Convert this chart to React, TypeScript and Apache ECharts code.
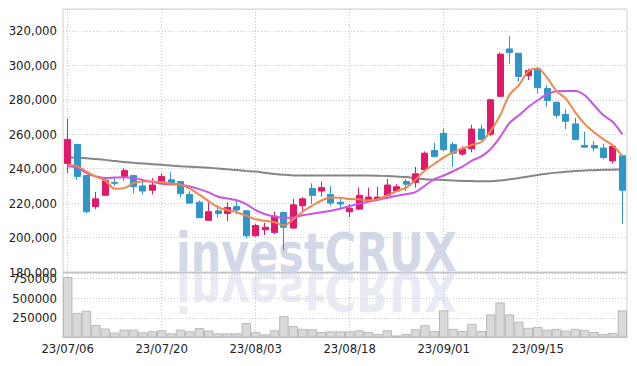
import React, { useEffect, useRef } from 'react';
import * as echarts from 'echarts';

const dates = [
  '23/07/06', '23/07/07', '23/07/10', '23/07/11', '23/07/12', '23/07/13', '23/07/14', '23/07/17', '23/07/18', '23/07/19',
  '23/07/20', '23/07/21', '23/07/24', '23/07/25', '23/07/26', '23/07/27', '23/07/28', '23/07/31', '23/08/01', '23/08/02',
  '23/08/03', '23/08/04', '23/08/07', '23/08/08', '23/08/09', '23/08/10', '23/08/11', '23/08/14', '23/08/16', '23/08/17',
  '23/08/18', '23/08/21', '23/08/22', '23/08/23', '23/08/24', '23/08/25', '23/08/28', '23/08/29', '23/08/30', '23/08/31',
  '23/09/01', '23/09/04', '23/09/05', '23/09/06', '23/09/07', '23/09/08', '23/09/11', '23/09/12', '23/09/13', '23/09/14',
  '23/09/15', '23/09/18', '23/09/19', '23/09/20', '23/09/21', '23/09/22', '23/09/25', '23/09/26', '23/09/27', '23/10/04',
];

const openPrices = [
  243000, 254000, 236000, 218000, 224500, 232000, 235500, 236000, 230000, 227500,
  232500, 233500, 232500, 225000, 220500, 210000, 215500, 214000, 218000, 215500,
  201000, 204500, 203000, 214500, 205500, 218500, 228500, 227000, 225000, 220500,
  215000, 216500, 222000, 222000, 224500, 227000, 232500, 232000, 239500, 250500,
  260500, 254000, 248500, 251500, 263000, 260000, 282000, 309500, 307000, 294000,
  298000, 286500, 278500, 271500, 266000, 253500, 253500, 252000, 244500, 247500,
];
const closePrices = [
  257000, 235500, 215000, 222500, 233000, 231500, 239000, 229500, 227000, 230500,
  235500, 232000, 225500, 220000, 211500, 215000, 214000, 217500, 216000, 201000,
  207000, 206000, 212500, 206000, 219000, 222500, 224500, 229000, 220000, 219500,
  217000, 224500, 223500, 223500, 230500, 229500, 231000, 237000, 249000, 247000,
  251000, 249000, 251500, 263000, 257000, 280000, 306500, 307500, 293500, 297000,
  287000, 279500, 271000, 267500, 257000, 252500, 252000, 246500, 253000, 227500,
];
const lowPrices = [
  237500, 233500, 214000, 216500, 224500, 230000, 233000, 225500, 225000, 225000,
  231000, 231000, 223500, 219500, 211500, 210000, 211500, 209500, 213500, 199500,
  200500, 201500, 202000, 192500, 205000, 215500, 219500, 224000, 218500, 216500,
  212000, 216000, 221500, 222000, 222500, 226500, 227000, 229000, 238000, 247000,
  250000, 241000, 247500, 249500, 256500, 259000, 281500, 301000, 290500, 291500,
  283500, 276000, 269500, 263000, 256500, 252000, 250000, 245500, 243000, 208000,
];
const highPrices = [
  269000, 254500, 236000, 226500, 234000, 235000, 240500, 236500, 233500, 234500,
  237500, 238000, 232500, 227000, 221500, 220500, 219000, 220500, 221500, 216000,
  208000, 208500, 215000, 215000, 222500, 223500, 231500, 232500, 230000, 222500,
  219500, 229000, 229000, 229500, 234000, 231000, 234000, 241000, 250000, 255000,
  263500, 255500, 253000, 265500, 265500, 280500, 307500, 317000, 307000, 298000,
  299000, 288500, 279000, 274500, 269500, 261500, 256000, 254500, 254000, 247500,
];

const ma5 = [
  242100, 241500, 238300, 235400, 233100, 228400, 228700, 231600, 232500, 232500,
  232200, 231300, 230700, 228400, 224900, 221100, 217600, 215900, 214700, 212700,
  210600, 209700, 208900, 207100, 210600, 215000, 218500, 221500, 223200, 223100,
  222400, 222200, 221500, 222300, 224500, 227000, 229000, 233500, 238900, 242700,
  246500, 249400, 251700, 253800, 255500, 261900, 271000, 282900, 288500, 296600,
  298200, 292800, 285000, 280600, 272700, 266000, 261100, 257000, 253500, 247300,
];
const ma10 = [
  241400, 240600, 237400, 235400, 234600, 234800, 235000, 234500, 233500, 232300,
  231300, 230800, 230700, 229600, 228100, 226200, 223700, 222700, 221700, 219400,
  215900, 213500, 212100, 211500, 211700, 212900, 213800, 214700, 215600, 216700,
  218200, 219700, 220800, 222000, 223100, 224300, 225200, 226400, 230100, 233900,
  236000, 238500, 241200, 244700, 247100, 251400, 258300, 266500, 271000, 275800,
  279700, 283200, 285000, 285100, 285100, 282600, 276800, 271000, 267100, 259900,
];
const maLong = [
  246600, 246400, 246000, 245600, 245100, 244400, 243900, 243400, 243000, 242600,
  242200, 241800, 241400, 241100, 240800, 240500, 240100, 239600, 239200, 238700,
  238300, 237600, 236900, 236400, 236100, 236000, 236000, 236000, 236000, 236000,
  236000, 236000, 236000, 235900, 235700, 235400, 235100, 234500, 233900, 233600,
  233400, 233100, 232900, 232800, 232700, 232700, 233100, 233800, 234600, 235500,
  236300, 237100, 237700, 238200, 238600, 238900, 239100, 239300, 239400, 239500,
];

const volumes = [
  770000, 312000, 342000, 158000, 114000, 62000, 101000, 101000, 66000, 79000,
  92000, 53000, 101000, 79000, 120000, 90000, 53000, 53000, 53000, 184000,
  70000, 40000, 92000, 272000, 145000, 110000, 105000, 70000, 79000, 79000,
  79000, 92000, 70000, 44000, 92000, 26000, 44000, 105000, 158000, 83000,
  346000, 110000, 83000, 175000, 83000, 294000, 447000, 294000, 202000, 123000,
  136000, 101000, 110000, 88000, 110000, 97000, 70000, 44000, 57000, 346000,
];

const priceTicks = { min: 180000, max: 332700, interval: 20000 };
const volumeTicks = { min: 0, max: 822000, interval: 250000 };

const UP = '#e2196b';
const DOWN = '#2e97c8';
const GRID_LINE = '#c3c9dc';
const LABEL_FONT = "'DejaVu Sans Condensed', 'DejaVu Sans', sans-serif";
const WM_FONT = "bold 53px 'DejaVu Sans', sans-serif";

export default function App() {
  const ref = useRef<HTMLDivElement>(null);

  useEffect(() => {
    if (!ref.current) return;
    const chart = echarts.init(ref.current, null, { renderer: 'svg' });

    const candleData = dates.map((_, i) => [openPrices[i], closePrices[i], lowPrices[i], highPrices[i]]);

    const dotted = { color: GRID_LINE, width: 1, type: [1, 2] as any };

    const labelStyle = {
      color: '#222',
      fontSize: 13,
      fontFamily: LABEL_FONT,
    };

    chart.setOption({
      animation: false,
      backgroundColor: '#ffffff',
      grid: [
        { left: 63, right: 10, top: 9, height: 263, show: true, borderColor: '#cfcfcf', borderWidth: 1, outerBoundsMode: 'none', containLabel: false },
        { left: 63, right: 10, top: 273, height: 64.5, show: true, borderColor: '#cfcfcf', borderWidth: 1, outerBoundsMode: 'none', containLabel: false },
      ],
      graphic: [
        {
          type: 'text',
          x: 176,
          y: 252.7,
          scaleX: 0.81,
          z: 1,
          silent: true,
          style: {
            text: 'investCRUX',
            font: WM_FONT,
            fill: '#d2d8e8',
            textAlign: 'left',
            verticalAlign: 'middle',
          },
        },
        {
          type: 'text',
          x: 176,
          y: 272,
          scaleX: 0.81,
          scaleY: -1,
          z: 1,
          silent: true,
          style: {
            text: 'investCRUX',
            x: 0,
            y: -19.3,
            font: WM_FONT,
            fill: '#d2d8e8',
            opacity: 0.5,
            textAlign: 'left',
            verticalAlign: 'middle',
          },
        },
      ],
      xAxis: [
        {
          type: 'category',
          gridIndex: 0,
          data: dates,
          boundaryGap: true,
          axisLine: { show: true, lineStyle: { color: '#c4c4c4' } },
          axisTick: { show: false },
          axisLabel: { show: false },
          splitLine: { show: true, interval: 9, alignWithLabel: true, lineStyle: dotted },
        },
        {
          type: 'category',
          gridIndex: 1,
          data: dates,
          boundaryGap: true,
          axisLine: { show: true, lineStyle: { color: '#c4c4c4' } },
          axisTick: { show: false },
          axisLabel: { ...labelStyle, interval: 9, margin: 4 },
          splitLine: { show: true, interval: 9, alignWithLabel: true, lineStyle: dotted },
        },
      ],
      yAxis: [
        {
          type: 'value',
          gridIndex: 0,
          min: priceTicks.min,
          max: priceTicks.max,
          interval: priceTicks.interval,
          axisLine: { show: false },
          axisTick: { show: false },
          axisLabel: {
            ...labelStyle,
            margin: 6,
            showMaxLabel: false,
            formatter: (v: number) => v.toLocaleString('en-US'),
          },
          splitLine: { show: true, lineStyle: dotted },
        },
        {
          type: 'value',
          gridIndex: 1,
          min: volumeTicks.min,
          max: volumeTicks.max,
          interval: volumeTicks.interval,
          axisLine: { show: false },
          axisTick: { show: false },
          axisLabel: {
            ...labelStyle,
            margin: 6,
            showMaxLabel: false,
            showMinLabel: false,
            formatter: (v: number) => String(v),
          },
          splitLine: { show: true, lineStyle: dotted },
        },
      ],
      series: [
        {
          name: 'MA long',
          type: 'line',
          xAxisIndex: 0,
          yAxisIndex: 0,
          data: maLong,
          symbol: 'none',
          smooth: 0.3,
          lineStyle: { color: '#858585', width: 2 },
          z: 2,
        },
        {
          name: 'price',
          type: 'candlestick',
          xAxisIndex: 0,
          yAxisIndex: 0,
          data: candleData,
          barWidth: '70%',
          itemStyle: {
            color: UP,
            color0: DOWN,
            borderColor: UP,
            borderColor0: DOWN,
            borderWidth: 1,
          },
          z: 3,
        },
        {
          name: 'MA10',
          type: 'line',
          xAxisIndex: 0,
          yAxisIndex: 0,
          data: ma10,
          symbol: 'none',
          smooth: 0.3,
          lineStyle: { color: '#c955e4', width: 2 },
          z: 4,
        },
        {
          name: 'MA5',
          type: 'line',
          xAxisIndex: 0,
          yAxisIndex: 0,
          data: ma5,
          symbol: 'none',
          smooth: 0.3,
          lineStyle: { color: '#f0874c', width: 2 },
          z: 4,
        },
        {
          name: 'volume',
          type: 'bar',
          xAxisIndex: 1,
          yAxisIndex: 1,
          data: volumes,
          barCategoryGap: '0%',
          itemStyle: { color: '#d9d9d9', borderColor: '#b9b9b9', borderWidth: 1 },
          z: 3,
        },
      ],
    });

    return () => chart.dispose();
  }, []);

  return (
    <div
      ref={ref}
      style={{ position: 'absolute', left: 0, top: 0, width: 637, height: 366, background: '#fff' }}
    />
  );
}
